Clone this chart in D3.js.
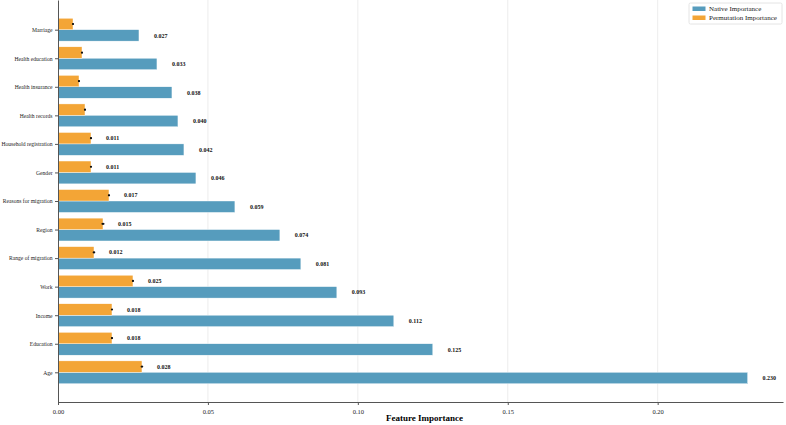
<!DOCTYPE html>
<html>
<head>
<meta charset="utf-8">
<script src="https://cdn.jsdelivr.net/npm/d3@7"></script>
<style>
  body { margin: 0; background: #fff; }
  svg { display: block; font-family: "Liberation Serif", "DejaVu Serif", serif; }
  .grid line { stroke: #e8e8e8; stroke-width: 0.8px; }
  .axis path, .axis line { stroke: #555; }
  .axis text { fill: #222; font-size: 6.5px; font-family: "Liberation Serif", serif; }
  .axis.y text { font-size: 5.6px; }
  .val { font-size: 6px; font-weight: bold; fill: #111; }
</style>
</head>
<body>
<div class="canvas"></div>
<script>
var margin = {top: 0, right: 3, bottom: 23, left: 58},
    width = 786 - margin.left - margin.right,
    height = 425 - margin.top - margin.bottom;

// bottom to top
var features = ["Age", "Education", "Income", "Work", "Range of migration", "Region",
  "Reasons for migration", "Gender", "Household registration", "Health records",
  "Health insurance", "Health education", "Marriage"];
var nativeImp = [0.230, 0.125, 0.112, 0.093, 0.081, 0.074, 0.059, 0.046, 0.042, 0.040, 0.038, 0.033, 0.027];
var permImp   = [0.028, 0.018, 0.018, 0.025, 0.012, 0.015, 0.017, 0.011, 0.011, 0.009, 0.007, 0.008, 0.005];
var permStd   = [0.0004, 0.0003, 0.0003, 0.0003, 0.0004, 0.0005, 0.0003, 0.0003, 0.0003, 0.0003, 0.0003, 0.0003, 0.0003];
var xTicks = [0, 0.05, 0.10, 0.15, 0.20];

var blue = "#569cbd", orange = "#f3a536";

var svg = d3.select(".canvas").append("svg")
    .attr("width", width + margin.left + margin.right)
    .attr("height", height + margin.top + margin.bottom)
  .append("g")
    .attr("transform", "translate(" + margin.left + "," + margin.top + ")");

var x = d3.scaleLinear().domain([0, 0.2418]).range([0, width]);
// numeric y like matplotlib: index with margins
var y = d3.scaleLinear().domain([-1.04, 13.04]).range([height, 0]);
var bh = y(0) - y(0.4);

svg.append("g").attr("class", "grid")
  .selectAll("line").data(xTicks.slice(1)).enter().append("line")
    .attr("x1", function(d) { return x(d); }).attr("x2", function(d) { return x(d); })
    .attr("y1", 0).attr("y2", height);

var rows = features.map(function(f, i) {
  return {name: f, i: i, nat: nativeImp[i], perm: permImp[i], std: permStd[i]};
});

// native bars (below tick)
svg.selectAll(".nat").data(rows).enter().append("rect")
  .attr("class", "nat")
  .attr("x", x(0))
  .attr("y", function(d) { return y(d.i); })
  .attr("width", function(d) { return x(d.nat) - x(0); })
  .attr("height", bh)
  .attr("fill", blue)
  .attr("stroke", "#fff").attr("stroke-width", 0.4);

// permutation bars (above tick)
svg.selectAll(".perm").data(rows).enter().append("rect")
  .attr("class", "perm")
  .attr("x", x(0))
  .attr("y", function(d) { return y(d.i + 0.4); })
  .attr("width", function(d) { return x(d.perm) - x(0); })
  .attr("height", bh)
  .attr("fill", orange)
  .attr("stroke", "#fff").attr("stroke-width", 0.4);

// error bars
var eb = svg.selectAll(".err").data(rows).enter().append("g").attr("class", "err");
eb.append("line")
  .attr("x1", function(d) { return x(d.perm - d.std); })
  .attr("x2", function(d) { return x(d.perm + d.std); })
  .attr("y1", function(d) { return y(d.i + 0.2); })
  .attr("y2", function(d) { return y(d.i + 0.2); })
  .attr("stroke", "#111").attr("stroke-width", 1.2);
eb.append("circle")
  .attr("cx", function(d) { return x(d.perm); })
  .attr("cy", function(d) { return y(d.i + 0.2); })
  .attr("r", 1.1).attr("fill", "#111");

// value labels
svg.selectAll(".natlab").data(rows).enter().append("text")
  .attr("class", "val")
  .attr("x", function(d) { return x(d.nat + 0.005); })
  .attr("y", function(d) { return y(d.i - 0.2); })
  .attr("dy", "0.35em")
  .text(function(d) { return d3.format(".3f")(d.nat); });

svg.selectAll(".permlab").data(rows.filter(function(d) { return d.perm > 0.01; })).enter().append("text")
  .attr("class", "val")
  .attr("x", function(d) { return x(d.perm + 0.005); })
  .attr("y", function(d) { return y(d.i + 0.2); })
  .attr("dy", "0.35em")
  .text(function(d) { return d3.format(".3f")(d.perm); });

// axes
svg.append("g").attr("class", "axis x")
  .attr("transform", "translate(0," + height + ")")
  .call(d3.axisBottom(x).tickValues(xTicks).tickFormat(d3.format(".2f")).tickSize(3).tickPadding(4).tickSizeOuter(0))
  .attr("font-family", null).attr("font-size", null);

svg.append("g").attr("class", "axis y")
  .call(d3.axisLeft(y).tickValues(d3.range(features.length))
    .tickFormat(function(d) { return features[d]; }).tickSize(3).tickPadding(2.5).tickSizeOuter(0))
  .attr("font-family", null).attr("font-size", null);

svg.append("text")
  .attr("x", width / 2 + 4)
  .attr("y", height + 19)
  .attr("text-anchor", "middle")
  .style("font-size", "9px").style("font-weight", "bold")
  .text("Feature Importance");

// legend
var lg = svg.append("g").attr("transform", "translate(" + (width - 94) + ",3)");
lg.append("rect").attr("width", 93).attr("height", 21)
  .attr("fill", "#fff").attr("stroke", "#ddd").attr("stroke-width", 0.8).attr("rx", 1.5);
var items = [["Native Importance", blue], ["Permutation Importance", orange]];
items.forEach(function(it, i) {
  lg.append("rect").attr("x", 3.5).attr("y", 3.5 + i * 9).attr("width", 13).attr("height", 4.5).attr("fill", it[1]);
  lg.append("text").attr("x", 20).attr("y", 6 + i * 9).attr("dy", "0.35em")
    .style("font-size", "7px").attr("fill", "#222").text(it[0]);
});
</script>
</body>
</html>
